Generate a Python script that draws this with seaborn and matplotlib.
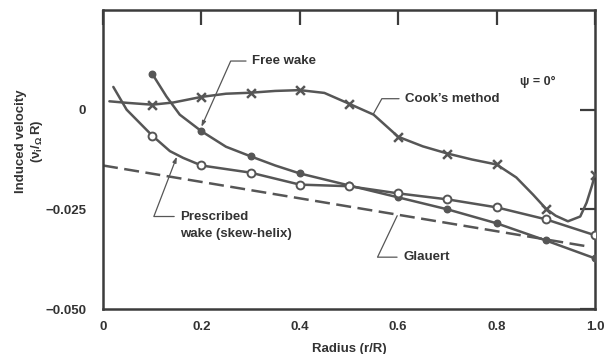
import matplotlib
matplotlib.use("Agg")
import matplotlib.pyplot as plt
import seaborn as sns

# ---- data ----
cook_x = [0.013, 0.05, 0.1, 0.143, 0.2, 0.25, 0.3, 0.35, 0.4, 0.45, 0.5, 0.55, 0.6, 0.65,
          0.7, 0.75, 0.8, 0.84, 0.874, 0.9, 0.92, 0.945, 0.97, 0.983, 0.994, 1.0]
cook_v = [0.0021, 0.0017, 0.00125, 0.0018, 0.0032, 0.004, 0.00425, 0.0047, 0.0049, 0.0042,
          0.0015, -0.00125, -0.0068, -0.0092, -0.011, -0.0125, -0.01375, -0.017, -0.0213,
          -0.0248, -0.0266, -0.028, -0.0268, -0.0233, -0.019, -0.0163]
cook_mx = [0.1, 0.2, 0.3, 0.4, 0.5, 0.6, 0.7, 0.8, 0.9, 1.0]
cook_mv = [0.00125, 0.0032, 0.00425, 0.0049, 0.0015, -0.0068, -0.011, -0.01375, -0.0248, -0.0163]

free_x = [0.1, 0.129, 0.156, 0.2, 0.25, 0.3, 0.35, 0.4, 0.5, 0.6, 0.7, 0.8, 0.9, 1.0]
free_v = [0.009, 0.0033, -0.00125, -0.0054, -0.0093, -0.0117, -0.014, -0.016, -0.019, -0.022,
          -0.025, -0.0285, -0.0328, -0.0373]
free_mx = [0.1, 0.2, 0.3, 0.4, 0.5, 0.6, 0.7, 0.8, 0.9, 1.0]
free_mv = [0.009, -0.0054, -0.0117, -0.016, -0.019, -0.022, -0.025, -0.0285, -0.0328, -0.0373]

pres_x = [0.021, 0.048, 0.1, 0.136, 0.163, 0.2, 0.3, 0.4, 0.5, 0.6, 0.7, 0.8, 0.9, 1.0]
pres_v = [0.0057, 0.0, -0.0065, -0.0104, -0.0121, -0.014, -0.0158, -0.0188, -0.0192, -0.021,
          -0.0225, -0.0245, -0.0275, -0.0315]
pres_mx = [0.1, 0.2, 0.3, 0.4, 0.5, 0.6, 0.7, 0.8, 0.9, 1.0]
pres_mv = [-0.0065, -0.014, -0.0158, -0.0188, -0.0192, -0.021, -0.0225, -0.0245, -0.0275, -0.0315]

glauert_x = [0.0, 0.98]
glauert_v = [-0.014, -0.0342]

xticks = [0, 0.2, 0.4, 0.6, 0.8, 1.0]
xtick_labels = ["0", "0.2", "0.4", "0.6", "0.8", "1.0"]
yticks = [0, -0.025, -0.05]
ytick_labels = ["0", "\u22120.025", "\u22120.050"]

# ---- style ----
sns.set_theme(style="white")
plt.rcParams["font.family"] = ["Liberation Sans", "DejaVu Sans"]
plt.rcParams["font.weight"] = "bold"
plt.rcParams["axes.labelweight"] = "bold"
plt.rcParams["mathtext.fontset"] = "custom"
plt.rcParams["mathtext.rm"] = "Liberation Sans:bold"
plt.rcParams["mathtext.it"] = "Liberation Sans:bold"

LC = "#565656"
SC = "#3c3c3c"
TC = "#333333"
FS = 9.5

fig = plt.figure(figsize=(6.14, 3.54), dpi=100)
ax = fig.add_axes([103 / 614, 1 - 309 / 354, 492 / 614, 299 / 354])

lw = 1.8
sns.lineplot(x=cook_x, y=cook_v, ax=ax, color=LC, lw=lw, sort=False, estimator=None)
sns.lineplot(x=free_x, y=free_v, ax=ax, color=LC, lw=lw, sort=False, estimator=None)
sns.lineplot(x=pres_x, y=pres_v, ax=ax, color=LC, lw=lw, sort=False, estimator=None)
sns.lineplot(x=glauert_x, y=glauert_v, ax=ax, color=LC, lw=lw, sort=False,
             estimator=None, linestyle=(0, (6, 2.6)))

sns.scatterplot(x=cook_mx, y=cook_mv, ax=ax, marker="x", s=40, color=LC,
                linewidth=1.8, zorder=5)
sns.scatterplot(x=free_mx, y=free_mv, ax=ax, marker="o", s=22, color=LC,
                edgecolor=LC, linewidth=1.0, zorder=5)
sns.scatterplot(x=pres_mx, y=pres_mv, ax=ax, marker="o", s=32, facecolor="white",
                edgecolor=LC, linewidth=1.4, zorder=5)

ax.set_xlim(0, 1.0)
ax.set_ylim(-0.05, 0.025)
ax.set_xticks(xticks)
ax.set_xticklabels(xtick_labels)
ax.set_yticks(yticks)
ax.set_yticklabels(ytick_labels)
ax.tick_params(axis="both", direction="in", length=11, width=1.6, color=SC,
               labelsize=FS, labelcolor=TC, top=True, right=True,
               labeltop=False, labelright=False)
ax.tick_params(axis="x", pad=9)
ax.tick_params(axis="y", pad=12)
for s in ax.spines.values():
    s.set_visible(True)
    s.set_color(SC)
    s.set_linewidth(1.8)

ax.set_xlabel("Radius (r/R)", fontsize=FS, color=TC)
ax.xaxis.set_label_coords(0.5, -0.115)
ax.set_ylabel("Induced velocity\n" + r"($\nu_i/_{\Omega}\,R$)", fontsize=FS,
              color=TC, linespacing=1.15)
ax.yaxis.set_label_coords(-0.118, 0.56)

thin = 0.9
ax.annotate("Free wake", xy=(0.2, -0.0043), xytext=(0.303, 0.0122),
            ha="left", va="center", fontsize=FS, color=TC,
            arrowprops=dict(arrowstyle="-|>,head_length=0.35,head_width=0.12",
                            connectionstyle="angle,angleA=0,angleB=66,rad=0",
                            relpos=(0, 0.5), shrinkA=2, shrinkB=0, color=LC, lw=thin))
ax.annotate("Cook\u2019s method", xy=(0.549, -0.0012), xytext=(0.614, 0.00275),
            ha="left", va="center", fontsize=FS, color=TC,
            arrowprops=dict(arrowstyle="-",
                            connectionstyle="angle,angleA=0,angleB=61,rad=0",
                            relpos=(0, 0.5), shrinkA=2, shrinkB=0, color=LC, lw=thin))
ax.text(0.884, 0.007, "\u03c8 = 0\u00b0", ha="center", va="center", fontsize=FS - 0.5,
        color=TC)
ax.annotate("Prescribed", xy=(0.150, -0.0118), xytext=(0.157, -0.0268),
            ha="left", va="center", fontsize=FS, color=TC,
            arrowprops=dict(arrowstyle="-|>,head_length=0.35,head_width=0.12",
                            connectionstyle="angle,angleA=0,angleB=69,rad=0",
                            relpos=(0, 0.5), shrinkA=2, shrinkB=0, color=LC, lw=thin))
ax.text(0.157, -0.0312, "wake (skew-helix)", ha="left", va="center", fontsize=FS,
        color=TC)
ax.annotate("Glauert", xy=(0.598, -0.0266), xytext=(0.61, -0.037),
            ha="left", va="center", fontsize=FS, color=TC,
            arrowprops=dict(arrowstyle="-",
                            connectionstyle="angle,angleA=0,angleB=64.6,rad=0",
                            relpos=(0, 0.5), shrinkA=2, shrinkB=0, color=LC, lw=thin))

fig.savefig("out.png", dpi=100, facecolor="white")
